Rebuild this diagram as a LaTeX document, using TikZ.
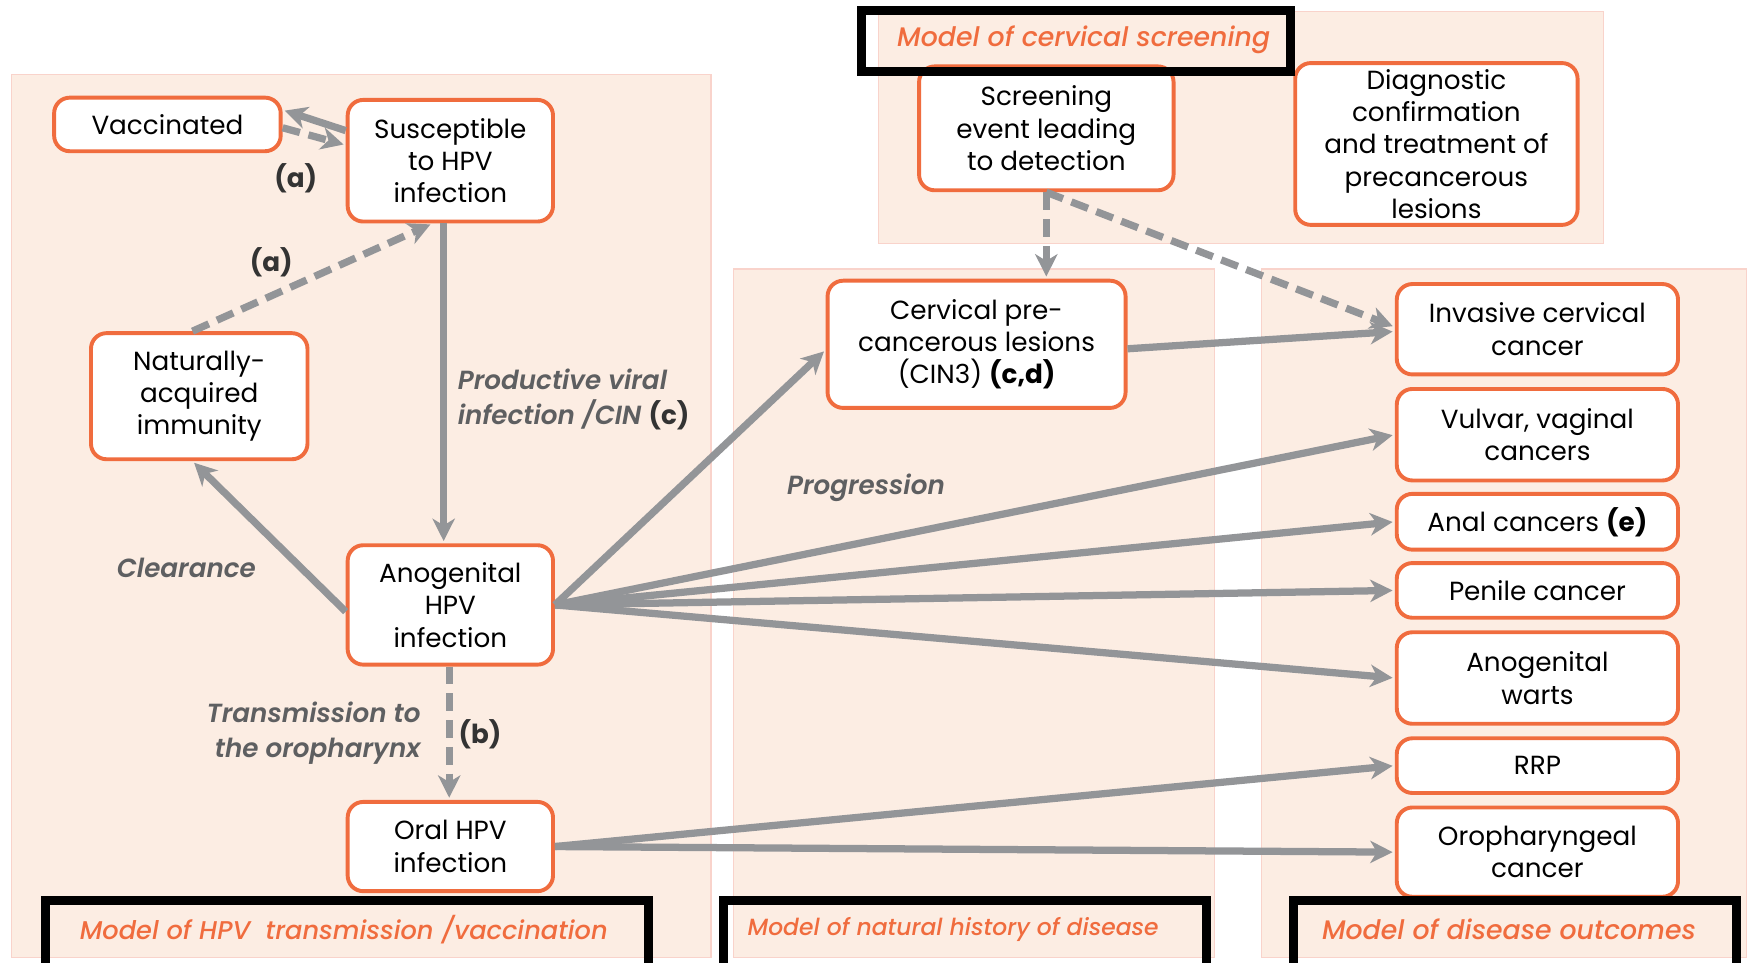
\documentclass[tikz,border=0pt]{standalone}
\usepackage{fontspec}
\setmainfont{Poppins}
\newfontfamily\semifont{Poppins SemiBold Italic}
\newfontfamily\medfont{Poppins Medium Italic}
\usetikzlibrary{arrows.meta}
\definecolor{orng}{HTML}{F06C3E}
\definecolor{arrgray}{HTML}{939598}
\definecolor{peach}{HTML}{FCEDE3}
\definecolor{peachline}{HTML}{F9D3CB}
\definecolor{lblgray}{HTML}{5E5F61}
\definecolor{ltrgray}{HTML}{333333}
\newcommand{\nodefont}{\fontsize{23.5}{29}\selectfont}
\newcommand{\ltr}[1]{{\normalfont\bfseries\color{ltrgray}#1}}
\tikzstyle{panel} = [fill=peach, draw=peachline, line width=1pt]
\tikzstyle{box} = [draw=orng, line width=3.5pt, fill=white, rounded corners=14pt, align=center, font=\nodefont, inner sep=2pt]
\tikzstyle{outbox} = [box, minimum width=252pt]
\tikzstyle{flow} = [draw=arrgray, line width=6.5pt, shorten >=2pt, -{Stealth[length=20pt, width=20pt, inset=6pt]}]
\tikzstyle{dflow} = [flow, dash pattern=on 16pt off 8pt]
\tikzstyle{lbl} = [font=\fontsize{23.5}{31}\selectfont\semifont, text=lblgray, inner sep=0pt]
\tikzstyle{frame} = [draw=black, line width=8pt, inner sep=0pt]
\tikzstyle{sect} = [font=\fontsize{24}{28}\selectfont\medfont, text=orng, inner sep=0pt]

\begin{document}
\begin{tikzpicture}[x=1pt, y=-1pt]%
	\useasboundingbox (0,0) rectangle (1568,862);%
	\clip (0,0) rectangle (1568,862);%
	% panels
	\filldraw[panel] (10,67) rectangle (637,858);%
	\filldraw[panel] (787,10) rectangle (1437,218);%
	\filldraw[panel] (657,241) rectangle (1088,858);%
	\filldraw[panel] (1130,241) rectangle (1565,858);%
	% transmission / vaccination
	\node[box, minimum width=203pt, minimum height=48pt] (vac) at (150,111.5) {Vaccinated};
	\node[box, minimum width=184pt, minimum height=109pt] (sus) at (403.5,144) {Susceptible\\to HPV\\infection};
	\node[box, minimum width=194pt, minimum height=113pt] (imm) at (178.5,355) {Naturally-\\acquired\\immunity};
	\node[box, minimum width=184pt, minimum height=107pt] (ano) at (403.5,542) {Anogenital\\HPV\\infection};
	\node[box, minimum width=184pt, minimum height=80pt] (oral) at (403.5,758.5) {Oral HPV\\infection};
	% screening
	\node[box, minimum width=228pt, minimum height=111pt] (scr) at (937.5,115) {Screening\\event leading\\to detection};
	\node[box, minimum width=253pt, minimum height=145pt] (dia) at (1287,129) {Diagnostic\\confirmation\\and treatment of\\precancerous\\lesions};
	% natural history
	\node[box, minimum width=267pt, minimum height=114pt] (cer) at (875,308.5) {Cervical pre-\\cancerous lesions\\(CIN3) \textbf{(c,d)}};
	% outcomes
	\node[outbox, minimum height=81pt] (inv) at (1377.5,295) {Invasive cervical\\cancer};
	\node[outbox, minimum height=82pt] (vul) at (1377.5,389.5) {Vulvar, vaginal\\cancers};
	\node[outbox, minimum height=50pt] (anal) at (1377.5,467.5) {Anal cancers \textbf{(e)}};
	\node[outbox, minimum height=49pt] (pen) at (1377.5,529) {Penile cancer};
	\node[outbox, minimum height=82pt] (war) at (1377.5,607.5) {Anogenital\\warts};
	\node[outbox, minimum height=49pt] (rrp) at (1377.5,686) {RRP};
	\node[outbox, minimum height=80pt] (oro) at (1377.5,763.5) {Oropharyngeal\\cancer};
	% arrows
	\draw[flow] ([yshift=27pt]sus.west) -- ([yshift=13pt]vac.east);
	\draw[dflow] ([yshift=-3pt]vac.east) -- ([yshift=14pt]sus.west);
	\draw[dflow] ([xshift=-6pt]imm.north) -- ([xshift=-16pt]sus.south);
	\draw[flow] ([xshift=-6pt]sus.south) -- ([xshift=-6pt]ano.north);
	\draw[flow] ([yshift=-6pt]ano.west) -- ([xshift=-6pt]imm.south);
	\draw[dflow] ([xshift=-1pt]ano.south) -- ([xshift=-1pt]oral.north);
	\draw[dflow] (scr.south) -- (scr.south |- cer.north);
	\draw[dflow] (scr.south) -- ([yshift=2pt]inv.west);
	\draw[flow] ([yshift=-4pt]cer.east) -- ([yshift=-2pt]inv.west);
	\draw[flow] (ano.east) -- ([yshift=-5pt]cer.west);
	\foreach \t in {vul,anal,pen,war}
		\draw[flow] (ano.east) -- (\t.west);
	\foreach \t in {rrp,oro}
		\draw[flow] (oral.east) -- (\t.west);
	% labels
	\node[lbl] (a1) at (265,160) {\ltr{(a)}};
	\node[lbl] (a2) at (243,235) {\ltr{(a)}};
	\node[lbl, anchor=west, align=left] (prod) at (410,358) {Productive viral\\infection /CIN \ltr{(c)}};
	\node[lbl] (clr) at (167,509) {Clearance};
	\node[lbl, anchor=east, align=right] (tro) at (377,657) {Transmission to\\the oropharynx};
	\node[lbl] (b1) at (430,658) {\ltr{(b)}};
	\node[lbl, anchor=west] (prog) at (705,437) {Progression};
	% section frames
	\node[frame, minimum width=384pt, minimum height=55pt] (fscr) at (964,36.5) {};
	\node[sect] (tscr) at (971,36) {Model of cervical screening};
	\node[frame, minimum width=540pt, minimum height=64pt] (ftra) at (311,839) {};
	\node[sect, font=\fontsize{23}{28}\selectfont\medfont] (ttra) at (308,833) {Model of HPV\ \ transmission /vaccination};
	\node[frame, minimum width=433pt, minimum height=64pt] (fnat) at (864.5,839) {};
	\node[sect, font=\fontsize{21}{28}\selectfont\medfont] (tnat) at (854,833) {Model of natural history of disease};
	\node[frame, minimum width=397pt, minimum height=64pt] (fout) at (1357.5,839) {};
	\node[sect] (tout) at (1352,833) {Model of disease outcomes};
\end{tikzpicture}
\end{document}
